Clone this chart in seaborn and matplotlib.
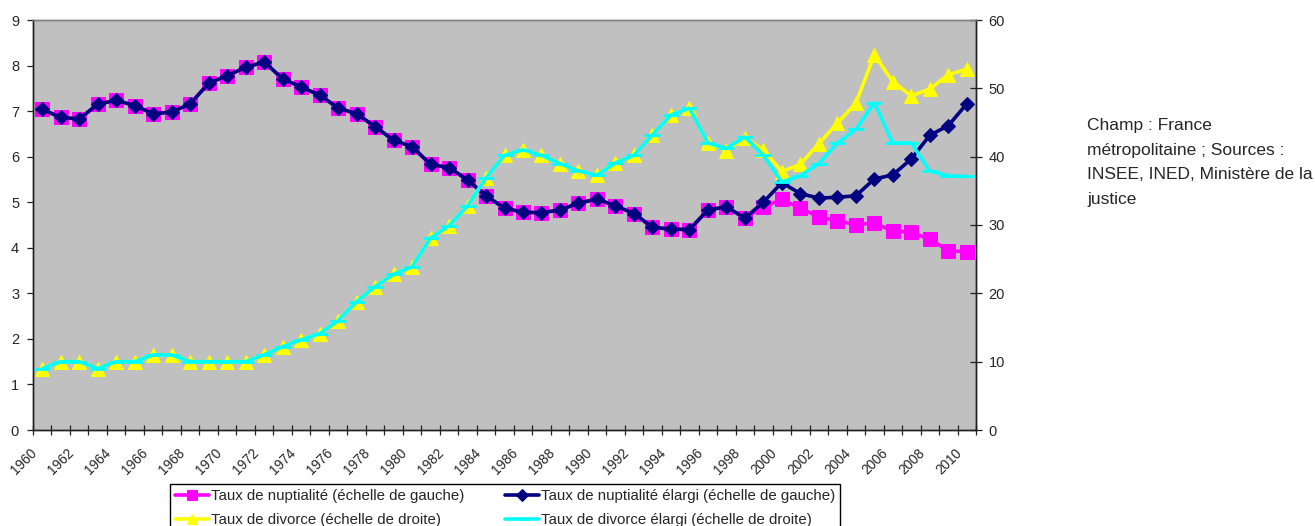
import matplotlib
matplotlib.use("Agg")
import matplotlib.pyplot as plt
import numpy as np
import pandas as pd
import seaborn as sns

# ---- data -------------------------------------------------------------
years = list(range(1960, 2011))

# marriage rate (per 1000 inhabitants), left scale
nuptialite = [7.04, 6.86, 6.83, 7.15, 7.24, 7.12, 6.94, 6.98, 7.16, 7.61,
              7.78, 7.96, 8.08, 7.71, 7.53, 7.35, 7.07, 6.94, 6.66, 6.36,
              6.22, 5.83, 5.76, 5.49, 5.14, 4.87, 4.78, 4.77, 4.83, 4.98,
              5.07, 4.92, 4.75, 4.45, 4.41, 4.40, 4.83, 4.90, 4.65, 4.90,
              5.06, 4.87, 4.68, 4.59, 4.51, 4.54, 4.37, 4.34, 4.19, 3.94,
              3.91]

# extended marriage rate (marriages + PACS), left scale
nuptialite_elargi = [7.04, 6.86, 6.83, 7.15, 7.24, 7.12, 6.94, 6.98, 7.16, 7.61,
                     7.78, 7.96, 8.08, 7.71, 7.53, 7.35, 7.07, 6.94, 6.66, 6.36,
                     6.22, 5.83, 5.76, 5.49, 5.14, 4.87, 4.78, 4.77, 4.83, 4.98,
                     5.07, 4.92, 4.75, 4.45, 4.41, 4.40, 4.83, 4.90, 4.65, 5.00,
                     5.43, 5.19, 5.09, 5.11, 5.14, 5.51, 5.60, 5.95, 6.47, 6.68,
                     7.16]

# divorce rate (per 100 marriages), right scale
divorce = [9.0, 10.0, 10.0, 9.0, 10.0, 10.0, 11.0, 11.0, 10.0, 10.0,
           10.0, 10.0, 11.0, 12.2, 13.2, 14.1, 16.0, 18.8, 21.0, 22.8,
           23.9, 28.1, 29.9, 32.8, 36.9, 40.2, 41.0, 40.2, 39.0, 37.9,
           37.3, 39.1, 40.2, 43.2, 46.1, 47.1, 42.0, 40.9, 42.7, 41.0,
           37.8, 38.9, 41.9, 44.9, 47.8, 54.9, 51.0, 48.9, 49.9, 52.0,
           52.8]

# extended divorce rate, right scale
divorce_elargi = [9.0, 10.0, 10.0, 9.0, 10.0, 10.0, 11.0, 11.0, 10.0, 10.0,
                  10.0, 10.0, 11.0, 12.2, 13.2, 14.1, 16.0, 18.8, 21.0, 22.8,
                  23.9, 28.1, 29.9, 32.8, 36.9, 40.2, 41.0, 40.2, 39.0, 37.9,
                  37.3, 39.1, 40.2, 43.2, 46.1, 47.1, 42.0, 41.2, 42.9, 40.2,
                  36.3, 37.2, 39.0, 42.0, 44.0, 47.9, 42.0, 42.0, 37.9, 37.2,
                  37.1]

labels = ["Taux de nuptialité (échelle de gauche)",
          "Taux de nuptialité élargi (échelle de gauche)",
          "Taux de divorce (échelle de droite)",
          "Taux de divorce élargi (échelle de droite)"]

note = "Champ : France\nmétropolitaine ; Sources :\nINSEE, INED, Ministère de la\njustice"

left_ticks = list(range(0, 10))
right_ticks = list(range(0, 70, 10))

# ---- style ------------------------------------------------------------
sns.set_style("ticks")
plt.rcParams["font.family"] = ["Liberation Sans", "DejaVu Sans"]

df = pd.DataFrame({"annee": years,
                   "nupt": nuptialite, "nupt_el": nuptialite_elargi,
                   "div": divorce, "div_el": divorce_elargi})

W, H = 1315, 526
fig = plt.figure(figsize=(W / 100, H / 100), dpi=100)
ax = fig.add_axes([33 / W, 1 - 430 / H, (976 - 33) / W, (430 - 20) / H])
ax.set_facecolor("#C0C0C0")
ax2 = ax.twinx()

# left-scale series
sns.lineplot(data=df, x="annee", y="nupt", ax=ax, color="#FF00FF",
             marker="s", markersize=9.5, markeredgecolor="#FF00FF",
             linewidth=2.6, label=labels[0], legend=False)
sns.lineplot(data=df, x="annee", y="nupt_el", ax=ax, color="#000080",
             marker="D", markersize=7.5, markeredgecolor="#000080",
             linewidth=2.6, label=labels[1], legend=False)

# right-scale series
sns.lineplot(data=df, x="annee", y="div", ax=ax2, color="#FFFF00",
             marker="^", markersize=10.5, markeredgecolor="#FFFF00",
             linewidth=2.6, label=labels[2], legend=False)
sns.lineplot(data=df, x="annee", y="div_el", ax=ax2, color="#00FFFF",
             marker="_", markersize=11, markeredgewidth=2,
             markeredgecolor="#00FFFF",
             linewidth=2.6, label=labels[3], legend=False)

# axes limits and ticks
ax.set_xlim(1959.5, 2010.5)
ax.set_ylim(0, 9)
ax2.set_ylim(0, 60)
ax.set_yticks(left_ticks)
ax2.set_yticks(right_ticks)
# slanted year labels sit a little to the left of their category
label_years = years[::2]
ax.set_xticks(np.array(label_years) - 0.4)
ax.set_xticklabels([str(y) for y in label_years], rotation=45,
                   ha="right", va="center", rotation_mode="anchor",
                   fontsize=9.8)
ax.set_xticks(np.arange(1959.5, 2011, 1), minor=True)
ax.tick_params(axis="x", which="major", length=0, pad=15)
ax.tick_params(axis="x", which="minor", length=7, direction="inout",
               width=0.9, color="#202020")
ax.tick_params(axis="y", length=4, direction="out", width=0.9,
               labelsize=10.5, pad=6, color="#202020")
ax2.tick_params(axis="y", length=8, direction="inout", width=0.9,
                labelsize=10.5, pad=5, color="#202020")
ax.set_xlabel("")
ax.set_ylabel("")
ax2.set_ylabel("")

for a in (ax, ax2):
    a.spines["top"].set_visible(True)
    a.spines["right"].set_visible(True)
    a.spines["top"].set_color("#808080")
    a.spines["left"].set_color("#202020")
    a.spines["bottom"].set_color("#202020")
    a.spines["right"].set_color("#202020")
    for s in a.spines.values():
        s.set_linewidth(1.0)

# legend under the plot
h1 = ax.get_lines()
h2 = ax2.get_lines()
handles = [h1[0], h2[0], h1[1], h2[1]]
leg_labels = [labels[0], labels[2], labels[1], labels[3]]
leg = fig.legend(handles, leg_labels, ncol=2, loc="upper center",
                 bbox_to_anchor=(505 / W, 1 - 484 / H), fontsize=10.8,
                 frameon=True, fancybox=False, edgecolor="black",
                 framealpha=1, borderpad=0.35, handlelength=2.3,
                 handletextpad=0.1, columnspacing=2.7, labelspacing=0.65,
                 markerscale=0.75, borderaxespad=0)
leg.get_frame().set_linewidth(1.0)

fig.text(1087 / W, 1 - 118 / H, note, ha="left", va="top",
         fontsize=12.5, linespacing=1.8)

fig.savefig("out.png", dpi=100)
